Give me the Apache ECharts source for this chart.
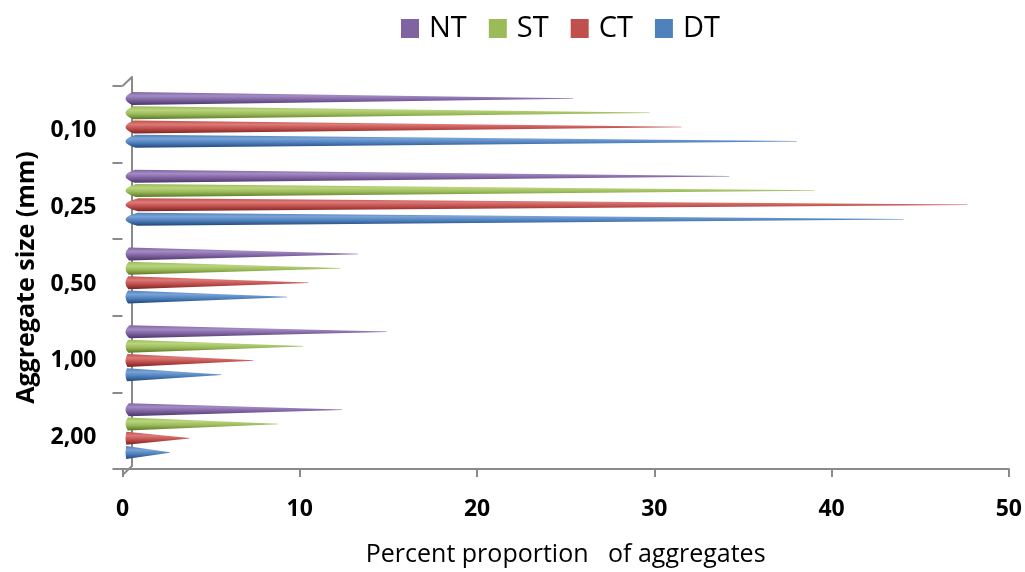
<!DOCTYPE html>
<html>
<head>
<meta charset="utf-8">
<script src="https://cdn.jsdelivr.net/npm/echarts@6/dist/echarts.min.js"></script>
<style>
  html, body { margin: 0; padding: 0; background: #fff; }
  #chart { width: 1025px; height: 572px; }
</style>
</head>
<body>
<div id="chart"></div>
<script>
// Aggregate size classes (mm), top to bottom
const categories = ['0,10', '0,25', '0,50', '1,00', '2,00'];
// Percent proportion of aggregates per treatment
const seriesNames = ['NT', 'ST', 'CT', 'DT'];
const valuesNT = [25.2, 34.0, 13.1, 14.7, 12.2];
const valuesST = [29.5, 38.8, 12.1, 10.0, 8.6];
const valuesCT = [31.3, 47.4, 10.3, 7.2, 3.6];
const valuesDT = [37.8, 43.8, 9.1, 5.4, 2.5];
const xTicks = [0, 10, 20, 30, 40, 50];

const seriesValues = [valuesNT, valuesST, valuesCT, valuesDT];
const baseColors = ['#8064A2', '#9BBB59', '#C0504D', '#4F81BD'];
const lightColors = ['#a38bc4', '#b9d47e', '#dc7a77', '#79a3d6'];
const darkColors = ['#4a3568', '#5a7527', '#7a2220', '#21457a'];

// Plot box on the front plane, plus the depth offsets for the cones and the back wall
const front = { left: 122.5, top: 86, width: 888, height: 389 };
const coneShift = { dx: 3, dy: -5 };
const wallShift = { dx: 9.5, dy: -9 };

const axisGray = '#8a8a8a';
const font = 'Open Sans';

const chart = echarts.init(document.getElementById('chart'));

function coneColor(i) {
  return new echarts.graphic.LinearGradient(0, 0, 0, 1, [
    { offset: 0, color: baseColors[i] },
    { offset: 0.3, color: lightColors[i] },
    { offset: 0.6, color: baseColors[i] },
    { offset: 1, color: darkColors[i] }
  ]);
}

const conePath = 'path://M3,0 L100,48 L100,52 L3,100 Q0,50 3,0 Z';

const series = seriesNames.map((name, i) => ({
  name: name,
  type: 'pictorialBar',
  xAxisIndex: 1,
  yAxisIndex: 1,
  symbol: conePath,
  symbolSize: ['100%', 13],
  symbolPosition: 'start',
  barWidth: 13,
  barGap: '10%',
  itemStyle: { color: coneColor(i) },
  emphasis: { disabled: true },
  data: seriesValues[i]
}));

const option = {
  animation: false,
  backgroundColor: '#ffffff',
  color: baseColors,
  legend: {
    data: seriesNames.map((n, i) => ({ name: n, itemStyle: { color: baseColors[i] } })),
    left: 396,
    top: 9,
    icon: 'rect',
    itemWidth: 18,
    itemHeight: 19,
    itemGap: 22,
    textStyle: { fontFamily: font, fontSize: 29, color: '#000', padding: [0, 0, 0, 5] }
  },
  grid: [
    { left: front.left, top: front.top, width: front.width, height: front.height },
    { left: front.left + coneShift.dx, top: front.top + coneShift.dy, width: front.width, height: front.height },
    { left: front.left + wallShift.dx, top: front.top + wallShift.dy, width: front.width, height: front.height }
  ],
  xAxis: [
    {
      gridIndex: 0, type: 'value', min: 0, max: 50, interval: 10,
      name: 'Percent proportion   of aggregates',
      nameLocation: 'middle', nameGap: 73,
      nameTextStyle: { fontFamily: font, fontSize: 25, color: '#000' },
      axisLine: { show: true, lineStyle: { color: axisGray, width: 2 } },
      axisTick: { show: true, length: 8, lineStyle: { color: axisGray, width: 2 } },
      axisLabel: { fontFamily: font, fontSize: 23, fontWeight: 'bold', color: '#000', margin: 29 },
      splitLine: { show: false }
    },
    { gridIndex: 1, type: 'value', min: 0, max: 50, interval: 10, show: false },
    { gridIndex: 2, type: 'value', min: 0, max: 50, interval: 10, show: false }
  ],
  yAxis: [
    {
      gridIndex: 0, type: 'category', data: categories, inverse: true,
      name: 'Aggregate size (mm)',
      nameLocation: 'middle', nameGap: 81, nameRotate: 90,
      nameTextStyle: { fontFamily: font, fontSize: 25, fontWeight: 'bold', color: '#000' },
      axisLine: { show: false },
      axisTick: { show: true, length: 10, lineStyle: { color: axisGray, width: 2 } },
      axisLabel: {
        fontFamily: font, fontSize: 23, fontWeight: 'bold', color: '#000', margin: 26,
        lineHeight: 23, verticalAlign: 'middle',
        formatter: v => '{c|' + v + '}',
        rich: { c: { fontFamily: font, fontSize: 23, fontWeight: 'bold', color: '#000', padding: [13, 0, 0, 0] } }
      },
      splitLine: { show: false }
    },
    { gridIndex: 1, type: 'category', data: categories, inverse: true, show: false },
    {
      gridIndex: 2, type: 'category', data: categories, inverse: true,
      axisLine: { show: true, lineStyle: { color: axisGray, width: 2 } },
      axisTick: { show: false },
      axisLabel: { show: false },
      splitLine: { show: false }
    }
  ],
  graphic: [
    // depth edges joining the front plane to the back wall
    {
      type: 'line', silent: true,
      shape: { x1: front.left, y1: front.top, x2: front.left + wallShift.dx, y2: front.top + wallShift.dy },
      style: { stroke: axisGray, lineWidth: 2 }
    },
    {
      type: 'line', silent: true,
      shape: {
        x1: front.left, y1: front.top + front.height,
        x2: front.left + wallShift.dx, y2: front.top + front.height + wallShift.dy
      },
      style: { stroke: axisGray, lineWidth: 2 }
    }
  ],
  series: series
};

chart.setOption(option);
</script>
</body>
</html>
